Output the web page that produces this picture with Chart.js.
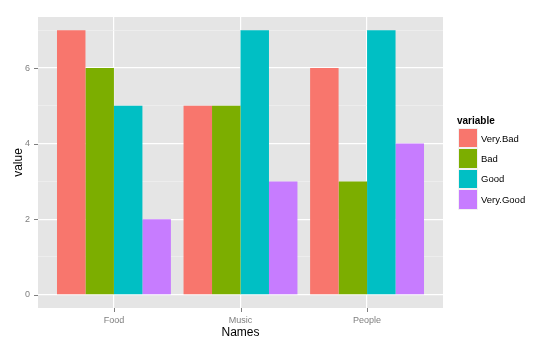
<!DOCTYPE html>
<html>
<head>
<meta charset="utf-8">
<script src="https://cdn.jsdelivr.net/npm/chart.js@4/dist/chart.umd.min.js"></script>
<style>
  html, body { margin: 0; padding: 0; background: #fff; }
  #wrap { position: relative; width: 558px; height: 349px; font-family: "Liberation Sans", Arial, sans-serif; }
  #legend { position: absolute; left: 458px; top: 114px; }
  #legend .title { font-size: 10px; font-weight: bold; color: #000; height: 14px; line-height: 14px; margin-left: -1px; }
  #legend .item { display: flex; align-items: center; height: 20.4px; }
  #legend .key { width: 20px; height: 20.4px; box-sizing: border-box; border: 1px solid #f2f2f2; }
  #legend .lab { font-size: 9.5px; color: #000; margin-left: 3px; }
</style>
</head>
<body>
<div id="wrap">
  <canvas id="c" width="558" height="349"></canvas>
  <div id="legend"></div>
</div>
<script>
// ===== Data =====
const categories = ['Food', 'Music', 'People'];
const seriesNames = ['Very.Bad', 'Bad', 'Good', 'Very.Good'];
const veryBad  = [7, 5, 6];
const bad      = [6, 5, 3];
const good     = [5, 7, 7];
const veryGood = [2, 3, 4];
const yTicks   = [0, 1, 2, 3, 4, 5, 6, 7];
const yLabels  = [0, 2, 4, 6];

const colors = ['#F8766D', '#7CAE00', '#00BFC4', '#C77CFF'];
const values = [veryBad, bad, good, veryGood];

const datasets = seriesNames.map((name, i) => ({
  label: name,
  data: values[i].map((v, j) => ({ x: j + 1, y: v })),
  backgroundColor: colors[i],
  borderWidth: 0,
  categoryPercentage: 0.9,
  barPercentage: 1.0
}));

// ===== Plugins =====
const panelBg = {
  id: 'panelBg',
  beforeDraw(chart) {
    const { ctx, chartArea: a } = chart;
    ctx.save();
    ctx.fillStyle = '#E5E5E5';
    ctx.fillRect(a.left, a.top, a.right - a.left, a.bottom - a.top);
    ctx.restore();
  }
};

const tickMarks = {
  id: 'tickMarks',
  afterDraw(chart) {
    const { ctx, chartArea: a, scales } = chart;
    ctx.save();
    ctx.strokeStyle = '#7F7F7F';
    ctx.lineWidth = 1;
    ctx.beginPath();
    yLabels.forEach(v => {
      const y = Math.round(scales.y.getPixelForValue(v)) + 0.5;
      ctx.moveTo(a.left - 4, y);
      ctx.lineTo(a.left, y);
    });
    categories.forEach((c, i) => {
      const x = Math.round(scales.x.getPixelForValue(i + 1)) + 0.5;
      ctx.moveTo(x, a.bottom);
      ctx.lineTo(x, a.bottom + 4);
    });
    ctx.stroke();
    ctx.restore();
  }
};

// ===== Chart =====
new Chart(document.getElementById('c'), {
  type: 'bar',
  data: { datasets },
  options: {
    responsive: false,
    animation: false,
    devicePixelRatio: 1,
    layout: { padding: { top: 17, right: 115, left: 0, bottom: 0 } },
    plugins: { legend: { display: false }, tooltip: { enabled: false } },
    scales: {
      x: {
        type: 'linear',
        min: 0.4,
        max: 3.6,
        offset: false,
        afterBuildTicks: s => { s.ticks = categories.map((c, i) => ({ value: i + 1 })); },
        afterFit: s => { s.height = 41; },
        grid: { color: '#FFFFFF', lineWidth: 1.2, drawTicks: false, offset: false },
        border: { display: false },
        ticks: {
          padding: 7,
          autoSkip: false,
          maxRotation: 0,
          color: '#7F7F7F',
          font: { family: '"Liberation Sans", Arial, sans-serif', size: 9 },
          callback: v => categories[v - 1]
        },
        title: {
          display: true,
          text: 'Names',
          color: '#000',
          font: { family: '"Liberation Sans", Arial, sans-serif', size: 12 },
          padding: { top: 0, bottom: 9 }
        }
      },
      y: {
        min: -0.35,
        max: 7.35,
        afterBuildTicks: s => { s.ticks = yTicks.map(v => ({ value: v })); },
        afterFit: s => { s.width = 38; },
        grid: {
          drawTicks: false,
          color: c => (c.tick && c.tick.value % 2 === 0) ? '#FFFFFF' : '#F2F2F2',
          lineWidth: c => (c.tick && c.tick.value % 2 === 0) ? 1.2 : 0.6
        },
        border: { display: false },
        ticks: {
          padding: 8,
          autoSkip: false,
          color: '#7F7F7F',
          font: { family: '"Liberation Sans", Arial, sans-serif', size: 9 },
          callback: v => yLabels.includes(v) ? String(v) : ''
        },
        title: {
          display: true,
          text: 'value',
          color: '#000',
          font: { family: '"Liberation Sans", Arial, sans-serif', size: 12 },
          padding: { top: 11, bottom: 0 }
        }
      }
    }
  },
  plugins: [panelBg, tickMarks]
});

// ===== Legend =====
const legendEl = document.getElementById('legend');
legendEl.innerHTML = '<div class="title">variable</div>' +
  seriesNames.map((n, i) =>
    `<div class="item"><div class="key" style="background:${colors[i]}"></div><span class="lab">${n}</span></div>`
  ).join('');
</script>
</body>
</html>
